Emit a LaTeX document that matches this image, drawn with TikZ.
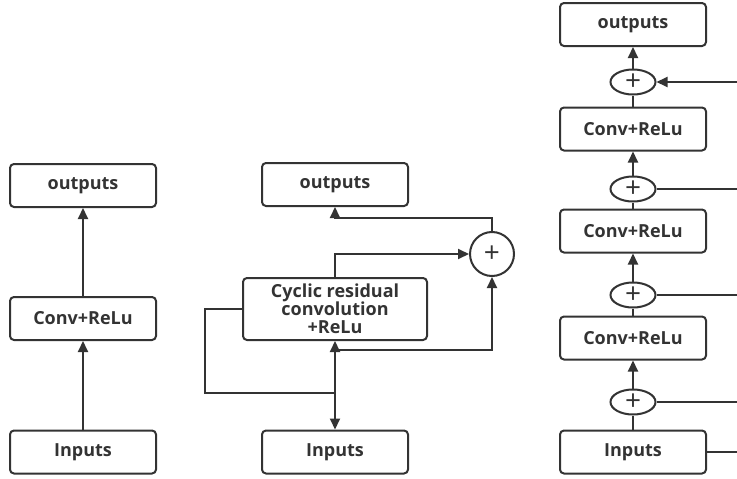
\documentclass[tikz,border=0pt]{standalone}
\usepackage{fontspec}
\setmainfont{Open Sans}
\usetikzlibrary{shapes.geometric,arrows.meta}
\begin{document}
\begin{tikzpicture}[x=1pt,y=-1pt,
  line width=2pt, draw=black!80,
  box/.style={draw=black!80, line width=2pt, rounded corners=4pt, minimum width=146pt, minimum height=43pt, inner sep=0pt, font=\fontsize{18}{19}\selectfont\bfseries, text=black!80},
  pl/.style={draw=black!80, line width=2pt, ellipse, minimum width=45pt, minimum height=25pt, inner sep=0pt, font=\fontsize{28}{28}\selectfont, text=black!80},
  pc/.style={draw=black!80, line width=2pt, circle, minimum size=44pt, inner sep=0pt, font=\fontsize{28}{28}\selectfont, text=black!80},
  arr/.style={-{Triangle[length=11pt,width=10pt]}},
  arrb/.style={{Triangle[length=11pt,width=10pt]}-{Triangle[length=11pt,width=10pt]}}]
\useasboundingbox[fill=white] (0,0) rectangle (737,479);
% left column
\node[box] (lout) at (83,185.5) {outputs};
\node[box] (lconv) at (83,318.5) {Conv+ReLu};
\node[box] (lin) at (83,452) {Inputs};
\draw[arr] (lin.north) -- (lconv.south);
\draw[arr] (lconv.north) -- (lout.south);
% middle column
\node[box] (mout) at (335,184.5) {outputs};
\node[box, minimum width=184pt, minimum height=62pt, align=center, font=\fontsize{18}{18}\selectfont\bfseries] (cyc) at (335,309) {Cyclic residual\\convolution\\+ReLu};
\node[box] (min) at (335,452) {Inputs};
\node[pc] (plus) at (492,254) {+};
\coordinate (m1) at (335,218);
\coordinate (m2) at (335,350);
\coordinate (m3) at (205,393);
\coordinate (m4) at (335,393);
\draw[arr] (plus.north) |- (m1) -- (mout.south);
\draw[arr] (cyc.north) |- (plus.west);
\draw[arr] (m2) -| (plus.south);
\draw[arrb] (cyc.south) -- (min.north);
\draw (cyc.west) -| (m3) -- (m4);
% right column
\node[box] (rout) at (633,24.5) {outputs};
\node[pl] (p1) at (633,82) {+};
\node[box] (c1) at (633,129) {Conv+ReLu};
\node[pl] (p2) at (633,189) {+};
\node[box] (c2) at (633,231) {Conv+ReLu};
\node[pl] (p3) at (633,295) {+};
\node[box] (c3) at (633,338) {Conv+ReLu};
\node[pl] (p4) at (633,402) {+};
\node[box] (rin) at (633,452) {Inputs};
\draw (rin.north) -- (p4.south);
\draw[arr] (p4.north) -- (c3.south);
\draw (c3.north) -- (p3.south);
\draw[arr] (p3.north) -- (c2.south);
\draw (c2.north) -- (p2.south);
\draw[arr] (p2.north) -- (c1.south);
\draw (c1.north) -- (p1.south);
\draw[arr] (p1.north) -- (rout.south);
\coordinate (e1) at (737,82);
\coordinate (e2) at (737,189);
\coordinate (e3) at (737,295);
\coordinate (e4) at (737,402);
\coordinate (e5) at (737,452);
\draw[arr] (e1) -- (p1.east);
\draw (p2.east) -- (e2);
\draw (p3.east) -- (e3);
\draw (p4.east) -- (e4);
\draw (rin.east) -- (e5);
\end{tikzpicture}
\end{document}
